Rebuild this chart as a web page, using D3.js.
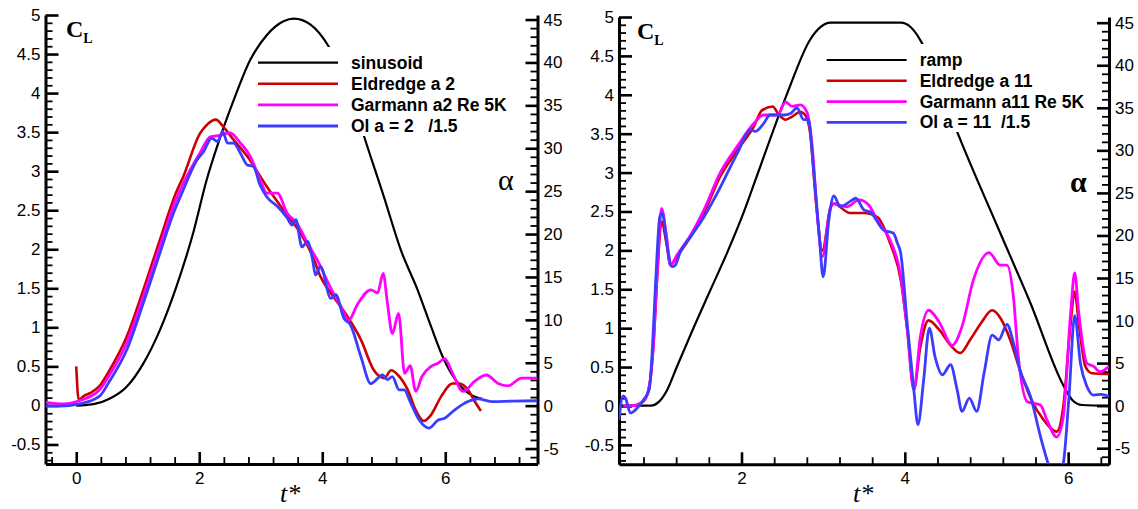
<!DOCTYPE html>
<html><head><meta charset="utf-8">
<script src="https://cdn.jsdelivr.net/npm/d3@7"></script>
<style>
html,body{margin:0;padding:0;background:#fff;}
svg{display:block;}
text{font-family:"Liberation Sans",Arial,sans-serif;}
</style></head>
<body>
<script>
// ---------- DATA ----------
// Left panel (pitch, sinusoid a=2): t*, alpha (deg)
const sinusoid = [[0,0],[0.3,0.2],[0.54,0.8],[0.82,2.2],[1.09,4.9],[1.36,8.8],[1.63,13.9],[1.90,20.1],[2.12,26.3],[2.29,30.2],[2.56,35.6],[2.83,40.3],[3.10,43.2],[3.37,44.8],[3.54,45.1],[3.81,44.4],[4.11,41.8],[4.3,39.2],[4.5,35.6],[4.68,31.4],[5.0,24.4],[5.28,18.1],[5.55,13.5],[5.77,9.2],[5.99,5.2],[6.2,2.7],[6.42,1.25],[6.6,0.8]];
// t*, CL
const eldredgeA2 = [[0,0.5],[0.04,0.07],[0.12,0.12],[0.22,0.156],[0.38,0.25],[0.54,0.45],[0.82,0.88],[1.09,1.48],[1.36,2.12],[1.62,2.72],[1.74,2.93],[2.01,3.48],[2.12,3.59],[2.27,3.66],[2.39,3.57],[2.56,3.40],[2.78,3.19],[3.10,2.80],[3.37,2.50],[3.65,2.20],[3.86,1.88],[3.97,1.65],[4.14,1.44],[4.41,1.14],[4.63,0.84],[4.84,0.45],[5.01,0.35],[5.12,0.45],[5.23,0.39],[5.39,0.2],[5.52,-0.06],[5.65,-0.2],[5.77,-0.12],[5.93,0.11],[6.12,0.28],[6.23,0.28],[6.37,0.2],[6.48,0.05],[6.58,-0.07]];
const garmannA2 = [[-0.5,0.04],[-0.2,0.02],[0.05,0.06],[0.38,0.2],[0.54,0.39],[0.82,0.80],[1.09,1.40],[1.36,2.04],[1.62,2.63],[1.75,2.86],[2.01,3.23],[2.18,3.44],[2.34,3.46],[2.50,3.49],[2.67,3.36],[2.83,3.19],[2.99,2.89],[3.10,2.72],[3.27,2.72],[3.43,2.46],[3.59,2.33],[3.76,2.08],[3.92,1.86],[4.14,1.50],[4.30,1.27],[4.43,1.09],[4.57,1.29],[4.79,1.48],[4.90,1.44],[4.99,1.69],[5.06,1.31],[5.14,0.92],[5.24,1.18],[5.34,0.41],[5.43,0.51],[5.52,0.18],[5.62,0.37],[5.77,0.50],[5.88,0.54],[5.99,0.60],[6.12,0.41],[6.29,0.18],[6.48,0.31],[6.67,0.39],[6.86,0.28],[7.02,0.25],[7.24,0.35],[7.5,0.35]];
const olA2 = [[-0.5,-0.01],[-0.27,-0.01],[0.05,0.02],[0.38,0.12],[0.54,0.31],[0.82,0.71],[1.09,1.31],[1.36,1.95],[1.58,2.46],[1.74,2.76],[1.96,3.14],[2.07,3.25],[2.20,3.42],[2.30,3.38],[2.38,3.51],[2.46,3.36],[2.56,3.36],[2.67,3.23],[2.78,3.08],[2.88,3.06],[2.99,2.82],[3.10,2.67],[3.27,2.55],[3.43,2.40],[3.51,2.31],[3.57,2.38],[3.67,2.03],[3.76,2.10],[3.84,1.88],[3.89,1.67],[3.97,1.78],[4.14,1.37],[4.22,1.42],[4.35,1.12],[4.46,1.03],[4.63,0.62],[4.79,0.28],[4.98,0.39],[5.06,0.33],[5.14,0.37],[5.25,0.2],[5.33,0.2],[5.44,0.03],[5.58,-0.19],[5.74,-0.29],[5.88,-0.19],[5.99,-0.165],[6.15,-0.06],[6.37,0.05],[6.53,0.084],[6.75,0.05],[7.1,0.055],[7.5,0.06]];

// Right panel (ramp a=11): t*, alpha (deg)
const ramp = [[0.5,0],[0.89,0],[0.99,0.47],[1.09,1.85],[1.21,4.6],[1.42,9.3],[1.62,13.6],[1.83,18.1],[2.03,22.8],[2.17,26.5],[2.56,36.7],[2.84,43.0],[2.97,44.5],[3.09,45],[3.95,45],[4.07,44.5],[4.21,42.6],[4.40,38.2],[4.64,32.2],[5.15,20.7],[5.54,12.0],[5.94,2.4],[6.05,0.67],[6.17,0.08],[6.5,0]];
// t*, CL
const eldredgeA11 = [[0.55,0],[0.64,0],[0.80,0.06],[0.87,0.25],[0.92,0.76],[0.97,1.7],[1.02,2.37],[1.08,2.1],[1.13,1.81],[1.21,1.92],[1.38,2.18],[1.54,2.48],[1.74,2.95],[1.95,3.29],[2.15,3.59],[2.25,3.80],[2.38,3.85],[2.46,3.74],[2.54,3.68],[2.62,3.72],[2.72,3.78],[2.78,3.74],[2.84,3.51],[2.91,2.65],[2.99,2.0],[3.09,2.55],[3.13,2.6],[3.33,2.48],[3.50,2.48],[3.66,2.43],[3.82,2.09],[3.95,1.62],[4.03,0.98],[4.11,0.21],[4.19,0.76],[4.29,1.10],[4.42,0.98],[4.56,0.78],[4.68,0.68],[4.80,0.85],[4.93,1.06],[5.07,1.23],[5.17,1.13],[5.29,0.85],[5.41,0.46],[5.54,0.10],[5.70,-0.18],[5.86,-0.33],[5.94,-0.01],[6.03,1.06],[6.08,1.47],[6.13,1.06],[6.21,0.51],[6.29,0.42],[6.5,0.41]];
const garmannA11 = [[0.55,0],[0.64,0],[0.80,0.06],[0.87,0.25],[0.92,0.76],[0.97,1.75],[1.02,2.54],[1.08,2.2],[1.13,1.81],[1.21,1.94],[1.38,2.2],[1.54,2.52],[1.74,3.0],[1.95,3.34],[2.15,3.63],[2.27,3.74],[2.44,3.74],[2.54,3.91],[2.62,3.85],[2.72,3.87],[2.80,3.78],[2.87,3.29],[2.93,2.43],[2.99,1.92],[3.09,2.55],[3.13,2.6],[3.29,2.56],[3.44,2.65],[3.56,2.58],[3.66,2.39],[3.82,2.13],[3.95,1.67],[4.03,0.98],[4.11,0.21],[4.19,0.89],[4.29,1.23],[4.42,1.08],[4.58,0.78],[4.70,1.02],[4.84,1.62],[5.03,1.97],[5.17,1.81],[5.25,1.81],[5.33,1.40],[5.39,0.63],[5.50,0.055],[5.66,0.013],[5.74,-0.18],[5.86,-0.40],[5.94,-0.14],[6.03,1.19],[6.08,1.71],[6.13,1.19],[6.23,0.55],[6.31,0.51],[6.39,0.44],[6.5,0.51]];
const olA11 = [[0.5,-0.18],[0.55,0.13],[0.58,0.1],[0.64,-0.09],[0.72,-0.03],[0.80,0.08],[0.87,0.21],[0.91,0.76],[0.95,1.62],[1.0,2.43],[1.03,2.48],[1.09,2.05],[1.15,1.79],[1.19,1.81],[1.25,1.98],[1.38,2.18],[1.54,2.43],[1.70,2.73],[1.95,3.25],[2.11,3.55],[2.17,3.53],[2.27,3.63],[2.35,3.74],[2.52,3.74],[2.60,3.76],[2.68,3.83],[2.76,3.68],[2.82,3.68],[2.88,3.08],[2.95,2.22],[3.0,1.66],[3.07,2.4],[3.13,2.70],[3.21,2.56],[3.33,2.63],[3.40,2.67],[3.50,2.52],[3.58,2.49],[3.74,2.26],[3.86,2.22],[3.91,2.09],[3.95,1.96],[4.03,1.05],[4.11,0.21],[4.16,-0.24],[4.23,0.33],[4.30,1.0],[4.37,0.63],[4.46,0.40],[4.56,0.53],[4.64,0.21],[4.70,-0.07],[4.79,0.10],[4.88,-0.07],[4.97,0.42],[5.07,0.91],[5.15,0.85],[5.25,1.05],[5.33,0.81],[5.41,0.46],[5.54,0.12],[5.66,-0.39],[5.74,-0.69],[5.84,-1.0],[5.94,-0.74],[6.01,0.12],[6.08,1.16],[6.15,0.55],[6.23,0.25],[6.31,0.14],[6.41,0.15],[6.5,0.12]];

// Tick values
const clMajor = [-0.5,0,0.5,1,1.5,2,2.5,3,3.5,4,4.5,5];
const alphaMajor = [-5,0,5,10,15,20,25,30,35,40,45];
const tMajorLeft = [0,2,4,6];
const tMajorRight = [2,4,6];

// Legend labels
const legendLeft = ["sinusoid","Eldredge a 2","Garmann a2 Re 5K","Ol a = 2   /1.5"];
const legendRight = ["ramp","Eldredge a 11","Garmann a11 Re 5K","Ol a = 11  /1.5"];

// ---------- STYLE ----------
const colors = ["#000000","#cc0000","#ff00ff","#3c3cff"];
const widths = [2.2,2.6,2.8,2.8];

const svg = d3.select("body").append("svg").attr("width",1138).attr("height",509);

function range(a,b,s){const r=[];for(let i=0;;i++){const v=+(a+i*s).toFixed(6);if(v>b+1e-9)break;r.push(v);}return r;}

function panel(cfg){
  const x = d3.scaleLinear().domain(cfg.tDomain).range([cfg.x0,cfg.x1]);
  const y = d3.scaleLinear().domain([-0.75,5]).range([cfg.yb,cfg.yt]);
  const a = d3.scaleLinear().domain(cfg.aDomain).range([cfg.yb,cfg.yt]);
  const g = svg.append("g");
  const id = "clip"+cfg.id;
  g.append("clipPath").attr("id",id).append("rect")
    .attr("x",cfg.x0).attr("y",cfg.yt).attr("width",cfg.x1-cfg.x0).attr("height",cfg.yb-cfg.yt);

  const fmt = d=>String(d);
  const tMinor = range(Math.ceil(cfg.tDomain[0]/0.4)*0.4, cfg.tDomain[1], 0.4).filter(v=>Math.abs(v/2-Math.round(v/2))>1e-6);
  const clMinor = range(-0.7,5,0.1).filter(v=>Math.abs(v*2-Math.round(v*2))>1e-6);
  const aMinor = range(-6,45,1).filter(v=>v%5!==0);

  function styleAxis(sel,w){
    sel.select(".domain").attr("stroke","#000").attr("stroke-width",3);
    sel.selectAll(".tick line").attr("stroke","#000").attr("stroke-width",w);
    sel.selectAll(".tick text").attr("font-size",17).attr("fill","#000").attr("font-family","Liberation Sans, Arial, sans-serif");
  }
  // minor ticks
  g.append("g").attr("transform",`translate(0,${cfg.yb})`)
    .call(d3.axisBottom(x).tickValues(tMinor).tickSize(-7).tickSizeOuter(0).tickFormat(""))
    .call(s=>{styleAxis(s,1.8);s.select(".domain").remove();});
  g.append("g").attr("transform",`translate(${cfg.x0},0)`)
    .call(d3.axisLeft(y).tickValues(clMinor).tickSize(-7).tickSizeOuter(0).tickFormat(""))
    .call(s=>{styleAxis(s,1.8);s.select(".domain").remove();});
  g.append("g").attr("transform",`translate(${cfg.x1},0)`)
    .call(d3.axisRight(a).tickValues(aMinor).tickSize(-7).tickSizeOuter(0).tickFormat(""))
    .call(s=>{styleAxis(s,1.8);s.select(".domain").remove();});
  // major
  g.append("g").attr("transform",`translate(0,${cfg.yb})`)
    .call(d3.axisBottom(x).tickValues(cfg.tMajor).tickSize(-12).tickSizeOuter(0).tickPadding(8).tickFormat(fmt))
    .call(s=>styleAxis(s,2.6));
  g.append("g").attr("transform",`translate(${cfg.x0},0)`)
    .call(d3.axisLeft(y).tickValues(clMajor).tickSize(-13).tickSizeOuter(0).tickPadding(5).tickFormat(fmt))
    .call(s=>styleAxis(s,2.6));
  g.append("g").attr("transform",`translate(${cfg.x1},0)`)
    .call(d3.axisRight(a).tickValues(alphaMajor).tickSize(-12).tickSizeOuter(0).tickPadding(6).tickFormat(fmt))
    .call(s=>styleAxis(s,2.6));

  // curves
  const lineA = d3.line().x(d=>x(d[0])).y(d=>a(d[1])).curve(d3.curveMonotoneX);
  const lineC = d3.line().x(d=>x(d[0])).y(d=>y(d[1])).curve(d3.curveMonotoneX);
  const plot = g.append("g").attr("clip-path",`url(#${id})`);
  plot.append("path").datum(cfg.motion).attr("d",lineA).attr("fill","none").attr("stroke",colors[0]).attr("stroke-width",widths[0]);
  cfg.series.forEach((s,i)=>{
    plot.append("path").datum(s).attr("d",lineC).attr("fill","none")
      .attr("stroke",colors[i+1]).attr("stroke-width",widths[i+1]).attr("stroke-linejoin","round");
  });

  // legend
  const lg = g.append("g");
  lg.append("rect").attr("x",cfg.lgBox[0]).attr("y",cfg.lgBox[1]).attr("width",cfg.lgBox[2]).attr("height",cfg.lgBox[3]).attr("fill","#fff");
  cfg.legend.forEach((lab,i)=>{
    const yy = cfg.lgY0 + i*cfg.lgDy;
    lg.append("line").attr("x1",cfg.lgX).attr("x2",cfg.lgX+80).attr("y1",yy).attr("y2",yy)
      .attr("stroke",colors[i]).attr("stroke-width",widths[i]);
    lg.append("text").attr("x",cfg.lgX+93).attr("y",yy+6).attr("font-size",17.5).attr("font-weight","bold")
      .style("white-space","pre").text(lab);
  });

  // axis titles
  const cl = g.append("text").attr("x",cfg.clPos[0]).attr("y",cfg.clPos[1])
    .attr("font-weight","bold").attr("font-size",24)
    .style("font-family","Liberation Serif, serif");
  cl.append("tspan").text("C");
  cl.append("tspan").attr("dy",6).attr("font-size",14).text("L");
  g.append("text").attr("x",cfg.alphaPos[0]).attr("y",cfg.alphaPos[1])
    .style("font-family","Liberation Serif, serif").attr("font-size",30)
    .attr("font-weight",cfg.alphaBold?"bold":"normal").text("α");
  g.append("text").attr("x",cfg.tPos[0]).attr("y",cfg.tPos[1])
    .style("font-family","Liberation Serif, serif").attr("font-size",26).attr("font-style","italic").text("t*");
}

panel({id:"L",tDomain:[-0.5,7.5],x0:45.5,x1:537.5,yb:464,yt:15,aDomain:[-6.8,45.53],tMajor:tMajorLeft,
  motion:sinusoid,series:[eldredgeA2,garmannA2,olA2],legend:legendLeft,
  lgX:258,lgY0:62.7,lgDy:21.1,lgBox:[264,47,214,89],
  clPos:[66,37],alphaPos:[498,190],alphaBold:false,tPos:[280,502]});
panel({id:"R",tDomain:[0.5,6.5],x0:619,x1:1109,yb:464.3,yt:17,aDomain:[-6.89,45.67],tMajor:tMajorRight,
  motion:ramp,series:[eldredgeA11,garmannA11,olA11],legend:legendRight,
  lgX:826.7,lgY0:60,lgDy:20.8,lgBox:[820,44,262,88],
  clPos:[637,39],alphaPos:[1070,192],alphaBold:true,tPos:[853,502]});
</script>
</body></html>
